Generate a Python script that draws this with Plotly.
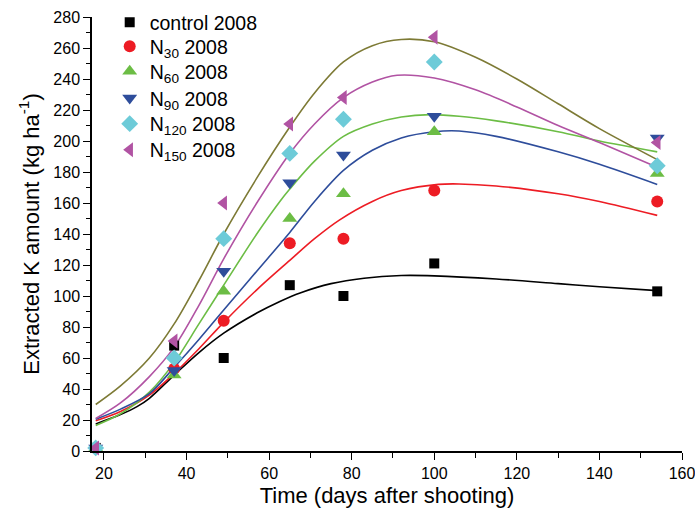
import plotly.graph_objects as go

# Measured data points (days after shooting)
days = [18, 37, 49, 65, 78, 100, 154]
control = [2, 68, 60, 107, 100, 121, 103]
n30 = [2, 53, 84, 134, 137, 168, 161]
n60 = [2, 49, 103, 150, 166, 206, 179]
n90 = [2, 52, 116, 173, 191, 216, 202]
n120 = [2, 60, 137, 192, 214, 251, 184]
n150 = [2, 71, 160, 211, 228, 267, 199]

# Fitted curves, values
fit_x_black = [18, 24, 28, 31, 37, 43, 49, 57, 62.6, 67.5, 75, 83, 92, 100, 115, 130, 140, 154]
fit_black = [17.5, 23.5, 28.6, 34, 49, 63.5, 76, 89, 96.5, 102, 108, 111.5, 113.2, 113, 111, 108, 106, 103.5]

fit_x_red = [18, 24, 31, 37, 43, 49, 57, 65, 71, 77, 85, 92, 101, 106, 115, 130, 140, 154]
fit_red = [19.5, 25.5, 36, 50, 66, 83, 104, 123, 137, 149, 161, 168, 172, 172.3, 171, 166, 161, 152]

fit_x_green = [18, 24, 31, 37, 43, 49, 57, 62.6, 65, 71, 78, 85, 92, 99, 106, 115, 130, 140, 154]
fit_green = [16.5, 24, 38, 57, 82, 107, 140, 161, 169, 187, 203, 211, 215.5, 217, 216, 213, 206, 200, 193]

fit_x_blue = [18, 24, 31, 37, 43, 49, 57, 65, 71, 78, 85, 92, 100, 106, 115, 130, 140, 154]
fit_blue = [20.5, 27, 37, 54, 72, 91, 116, 141, 161, 181, 194, 202, 206, 206.5, 203, 193, 185, 172]

fit_x_magenta = [18, 24, 31, 37, 43, 49, 57, 65, 71, 78, 85, 91, 100, 110, 120, 130, 140, 154]
fit_magenta = [21, 31, 48, 67, 94, 124, 160, 192, 211, 228, 238, 242.4, 240.6, 233, 222, 210, 199, 183]

fit_x_olive = [18, 24, 31, 37, 43, 49, 57, 65, 71, 78, 85, 92, 100, 110, 120, 130, 140, 154]
fit_olive = [30, 42, 60, 82, 110, 140, 176, 209, 231, 251, 261.5, 265.5, 264, 254, 240, 224, 208, 188]

series_names = ["control 2008", "N<sub>30</sub> 2008", "N<sub>60</sub> 2008",
                "N<sub>90</sub> 2008", "N<sub>120</sub> 2008", "N<sub>150</sub> 2008"]
series_values = [control, n30, n60, n90, n120, n150]
series_symbols = ["square", "circle", "triangle-up", "triangle-down", "diamond", "triangle-left"]
series_colors = ["#000000", "#ed1c24", "#6cbd45", "#2e4d9b", "#6dcbd8", "#b153a3"]
series_sizes = [10, 12, 13, 13, 13, 13]
legend_rows_y = [0.987, 0.9316, 0.874, 0.8127, 0.7535, 0.6935]

curves = [
    (fit_x_black, fit_black, "#000000"),
    (fit_x_red, fit_red, "#ed1c24"),
    (fit_x_green, fit_green, "#6cbd45"),
    (fit_x_blue, fit_blue, "#2e4d9b"),
    (fit_x_magenta, fit_magenta, "#b153a3"),
    (fit_x_olive, fit_olive, "#7d7a35"),
]

font_family = "Arial, Liberation Sans, sans-serif"

fig = go.Figure()
for cx, cy, col in curves:
    fig.add_trace(go.Scatter(x=cx, y=cy, mode="lines", line=dict(color=col, width=1.6, shape="spline", smoothing=0.9),
                             showlegend=False, hoverinfo="skip"))

legend_layouts = {}
for i, (name, vals, sym, col, sz) in enumerate(zip(series_names, series_values, series_symbols,
                                                    series_colors, series_sizes)):
    lg = "legend" if i == 0 else f"legend{i + 1}"
    fig.add_trace(go.Scatter(x=days, y=vals, mode="markers", name=name, legend=lg,
                             marker=dict(symbol=sym, color=col, size=sz, line=dict(width=0)),
                             cliponaxis=False))
    legend_layouts[lg] = dict(x=0.03, y=legend_rows_y[i], xanchor="left", yanchor="middle",
                              bgcolor="rgba(0,0,0,0)", borderwidth=0,
                              font=dict(size=19.5, family=font_family), itemsizing="trace")

fig.update_layout(
    width=695, height=522,
    margin=dict(l=92, r=13, t=17, b=71, autoexpand=False),
    paper_bgcolor="white", plot_bgcolor="white",
    font=dict(family=font_family, color="black"),
    showlegend=True,
    **legend_layouts,
)
fig.update_xaxes(
    range=[17.1, 160], tickmode="linear", tick0=20, dtick=20, automargin=False,
    ticklabeloverflow="allow",
    showline=True, linecolor="black", linewidth=1.5, showgrid=False, zeroline=False,
    ticks="outside", ticklen=7, tickwidth=1.3, tickcolor="black",
    minor=dict(dtick=10, tick0=20, ticks="outside", ticklen=5, tickwidth=1.3, tickcolor="black", showgrid=False),
    tickfont=dict(size=16, family=font_family),
    title=dict(text="Time (days after shooting)", font=dict(size=22, family=font_family), standoff=7),
)
fig.update_yaxes(
    range=[0, 280], tickmode="linear", tick0=0, dtick=20, automargin=False,
    ticklabeloverflow="allow",
    showline=True, linecolor="black", linewidth=1.5, showgrid=False, zeroline=False,
    ticks="outside", ticklen=7, tickwidth=1.3, tickcolor="black",
    minor=dict(dtick=10, ticks="outside", ticklen=4, tickwidth=1.3, tickcolor="black", showgrid=False),
    tickfont=dict(size=16, family=font_family),
    title=dict(text="Extracted K amount (kg ha<sup>-1</sup>)", font=dict(size=22, family=font_family), standoff=8),
)

fig.write_html("out.html", config={"displayModeBar": False},
               post_script="document.body.style.margin='0';document.body.style.overflow='hidden';")
